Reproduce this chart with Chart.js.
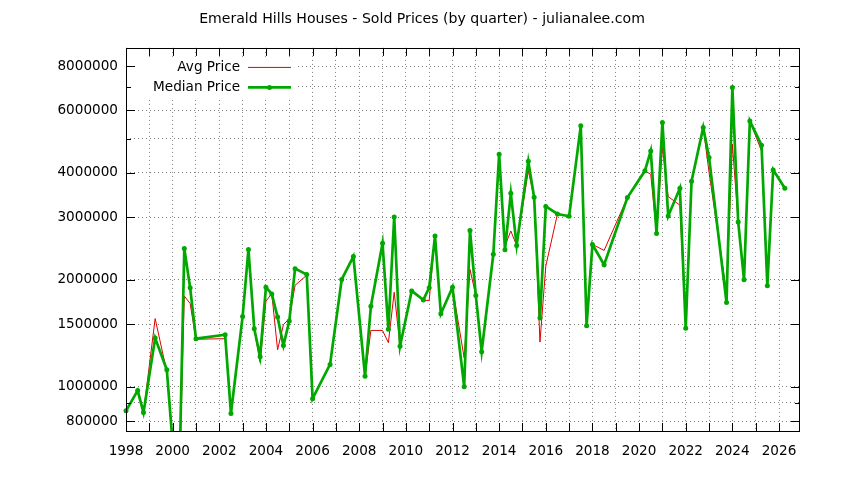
<!DOCTYPE html>
<html>
<head>
<meta charset="utf-8">
<title>Emerald Hills Houses - Sold Prices</title>
<script src="https://cdn.jsdelivr.net/npm/chart.js@4.4.1/dist/chart.umd.min.js"></script>
<style>
    html, body { margin: 0; padding: 0; background: #fff; }
    #priceChart { display: block; }
</style>
</head>
<body>
<canvas id="priceChart" width="844" height="480"></canvas>
<script>
// Quarter positions (fractional year) of each sale period
const quarters = [
    1998.0, 1998.5, 1998.75,
    1999.25, 1999.75,
    2000.25, 2000.5, 2000.75,
    2001.0,
    2002.25, 2002.5,
    2003.0, 2003.25, 2003.5, 2003.75,
    2004.0, 2004.25, 2004.5, 2004.75,
    2005.0, 2005.25, 2005.75,
    2006.0, 2006.75,
    2007.25, 2007.75,
    2008.25, 2008.5,
    2009.0, 2009.25, 2009.5, 2009.75,
    2010.25, 2010.75,
    2011.0, 2011.25, 2011.5,
    2012.0, 2012.5, 2012.75,
    2013.0, 2013.25, 2013.75,
    2014.0, 2014.25, 2014.5, 2014.75,
    2015.25, 2015.5, 2015.75,
    2016.0, 2016.5,
    2017.0, 2017.5, 2017.75,
    2018.0, 2018.5,
    2019.5,
    2020.25, 2020.5, 2020.75,
    2021.0, 2021.25, 2021.75,
    2022.0, 2022.25, 2022.75,
    2023.0, 2023.75,
    2024.0, 2024.25, 2024.5, 2024.75,
    2025.25, 2025.5, 2025.75,
    2026.25
];

const avgPrice = [
    855000, 975000, 845000,
    1555000, 1100000,
    430000, 1800000, 1715000,
    1360000,
    1365000, 840000,
    1575000, 2435000, 1455000, 1170000,
    1740000, 1830000, 1270000, 1495000,
    1555000, 1930000, 2060000,
    925000, 1155000,
    2005000, 2325000,
    1070000, 1440000,
    1440000, 1330000, 1845000, 1300000,
    1860000, 1750000,
    1750000, 2655000, 1605000,
    1905000, 1205000, 2140000,
    1805000, 1255000, 2360000,
    4515000, 2490000, 2745000, 2500000,
    4055000, 3415000, 1335000,
    2185000, 3065000,
    3020000, 5430000, 1485000,
    2515000, 2420000,
    3410000,
    4055000, 3965000, 2700000,
    4720000, 3430000, 3245000,
    1460000, 3790000, 5375000,
    4020000, 1840000,
    4820000, 2910000, 2000000, 5600000,
    4615000, 1925000, 4080000,
    3620000
];

const medianPrice = [
    855000, 975000, 845000,
    1370000, 1115000,
    430000, 2450000, 1900000,
    1365000,
    1400000, 840000,
    1575000, 2435000, 1455000, 1215000,
    1905000, 1825000, 1570000, 1305000,
    1530000, 2150000, 2070000,
    925000, 1155000,
    2005000, 2325000,
    1070000, 1685000,
    2535000, 1450000, 3005000, 1300000,
    1860000, 1755000,
    1900000, 2655000, 1605000,
    1905000, 1000000, 2755000,
    1805000, 1255000, 2360000,
    4515000, 2430000, 3505000, 2500000,
    4315000, 3415000, 1560000,
    3220000, 3065000,
    3020000, 5430000, 1485000,
    2515000, 2205000,
    3410000,
    4055000, 4615000, 2700000,
    5550000, 3025000, 3620000,
    1460000, 3790000, 5375000,
    4420000, 1725000,
    6965000, 2910000, 2000000, 5600000,
    4790000, 1925000, 4080000,
    3620000
];

const yearTicks = [1998, 1999, 2000, 2001, 2002, 2003, 2004, 2005, 2006, 2007,
    2008, 2009, 2010, 2011, 2012, 2013, 2014, 2015, 2016, 2017,
    2018, 2019, 2020, 2021, 2022, 2023, 2024, 2025, 2026];
const yearLabels = [1998, 2000, 2002, 2004, 2006, 2008, 2010, 2012, 2014, 2016,
    2018, 2020, 2022, 2024, 2026];
const priceTicks = [800000, 900000, 1000000, 1500000, 2000000, 3000000,
    4000000, 5000000, 6000000, 7000000, 8000000];
const priceLabels = [800000, 1000000, 1500000, 2000000, 3000000,
    4000000, 6000000, 8000000];

const FONT = "'DejaVu Sans', sans-serif";
const FONT_SIZE = 13.6;
const GRID_COLOR = 'rgba(0, 0, 0, 0.5)';

// gnuplot-like frame: full border, inward ticks mirrored on all sides, opaque key
const framePlugin = {
    id: 'frame',
    afterDraw(chart) {
        const { ctx, chartArea: a, scales: { x, y } } = chart;
        ctx.save();

        // Key box (opaque, hides grid behind it)
        ctx.fillStyle = '#fff';
        ctx.fillRect(a.left + 1, a.top + 9, 170, 41);

        ctx.font = `${FONT_SIZE}px ${FONT}`;
        ctx.textAlign = 'right';
        ctx.textBaseline = 'middle';
        const keyOrder = [1, 0];
        keyOrder.forEach((dsIndex, row) => {
            const ds = chart.data.datasets[dsIndex];
            const rowY = a.top + 19.5 + row * 20;
            ctx.fillStyle = '#000';
            ctx.fillText(ds.label, a.left + 114, rowY);
            ctx.strokeStyle = ds.borderColor;
            ctx.lineWidth = ds.borderWidth;
            ctx.beginPath();
            ctx.moveTo(a.left + 122, rowY);
            ctx.lineTo(a.left + 165, rowY);
            ctx.stroke();
            if (ds.pointRadius > 0) {
                ctx.fillStyle = ds.pointBackgroundColor;
                ctx.beginPath();
                ctx.arc(a.left + 143.5, rowY, ds.pointRadius, 0, Math.PI * 2);
                ctx.fill();
            }
        });

        // Ticks
        ctx.strokeStyle = '#000';
        ctx.lineWidth = 1;
        ctx.beginPath();
        yearTicks.forEach(yr => {
            const px = Math.round(x.getPixelForValue(yr)) + 0.5;
            ctx.moveTo(px, a.bottom);
            ctx.lineTo(px, a.bottom - 8);
            ctx.moveTo(px, a.top);
            ctx.lineTo(px, a.top + 8);
        });
        priceTicks.forEach(v => {
            const len = priceLabels.includes(v) ? 9 : 5;
            const py = Math.round(y.getPixelForValue(v)) + 0.5;
            ctx.moveTo(a.left, py);
            ctx.lineTo(a.left + len, py);
            ctx.moveTo(a.right, py);
            ctx.lineTo(a.right - len, py);
        });
        ctx.stroke();

        // Border
        ctx.strokeRect(Math.round(a.left) + 0.5, Math.round(a.top) + 0.5,
            Math.round(a.right - a.left) - 1, Math.round(a.bottom - a.top));
        ctx.restore();
    }
};

const ctx = document.getElementById('priceChart').getContext('2d');
new Chart(ctx, {
    type: 'line',
    data: {
        datasets: [
            {
                label: 'Median Price',
                data: quarters.map((q, i) => ({ x: q, y: medianPrice[i] })),
                borderColor: '#00a800',
                borderWidth: 2.7,
                pointRadius: 2.5,
                pointBackgroundColor: '#00a800',
                pointBorderWidth: 0,
                pointHoverRadius: 2.5,
                tension: 0,
                order: 0,
                clip: { left: 6, top: 6, right: 6, bottom: 0 }
            },
            {
                label: 'Avg Price',
                data: quarters.map((q, i) => ({ x: q, y: avgPrice[i] })),
                borderColor: '#e00000',
                borderWidth: 1,
                pointRadius: 0,
                pointHoverRadius: 0,
                tension: 0,
                order: 1,
                clip: { left: 6, top: 6, right: 6, bottom: 0 }
            }
        ]
    },
    options: {
        responsive: false,
        animation: false,
        devicePixelRatio: 1,
        layout: { padding: 0 },
        plugins: {
            legend: { display: false },
            tooltip: { enabled: false },
            title: {
                display: true,
                text: 'Emerald Hills Houses - Sold Prices (by quarter) - julianalee.com',
                color: '#000',
                font: { family: FONT, size: 14.1, weight: 'normal', lineHeight: 1.2 },
                padding: { top: 11, bottom: 20 }
            }
        },
        scales: {
            x: {
                type: 'linear',
                min: 1998,
                max: 2026.9,
                afterBuildTicks: scale => {
                    scale.ticks = yearTicks.map(v => ({ value: v }));
                },
                afterFit: scale => { scale.height = 49; },
                ticks: {
                    autoSkip: false,
                    maxRotation: 0,
                    padding: 12,
                    color: '#000',
                    font: { family: FONT, size: FONT_SIZE },
                    callback: value => yearLabels.includes(value) ? String(value) : ''
                },
                grid: { color: GRID_COLOR, lineWidth: 1, drawTicks: false },
                border: { display: false, dash: [1, 3] }
            },
            y: {
                type: 'logarithmic',
                min: 750000,
                max: 9000000,
                afterBuildTicks: scale => {
                    scale.ticks = priceTicks.map(v => ({ value: v }));
                },
                afterFit: scale => { scale.width = 126; },
                ticks: {
                    padding: 8,
                    color: '#000',
                    font: { family: FONT, size: FONT_SIZE },
                    callback: value => priceLabels.includes(value) ? String(value) : ''
                },
                grid: { color: GRID_COLOR, lineWidth: 1, drawTicks: false },
                border: { display: false, dash: [1, 3] }
            },
            // empty right-hand margin so the title stays centred on the full canvas
            yRight: {
                type: 'linear',
                position: 'right',
                afterFit: scale => { scale.width = 44; },
                ticks: { display: false },
                grid: { display: false, drawOnChartArea: false },
                border: { display: false }
            }
        }
    },
    plugins: [framePlugin]
});
</script>
</body>
</html>
